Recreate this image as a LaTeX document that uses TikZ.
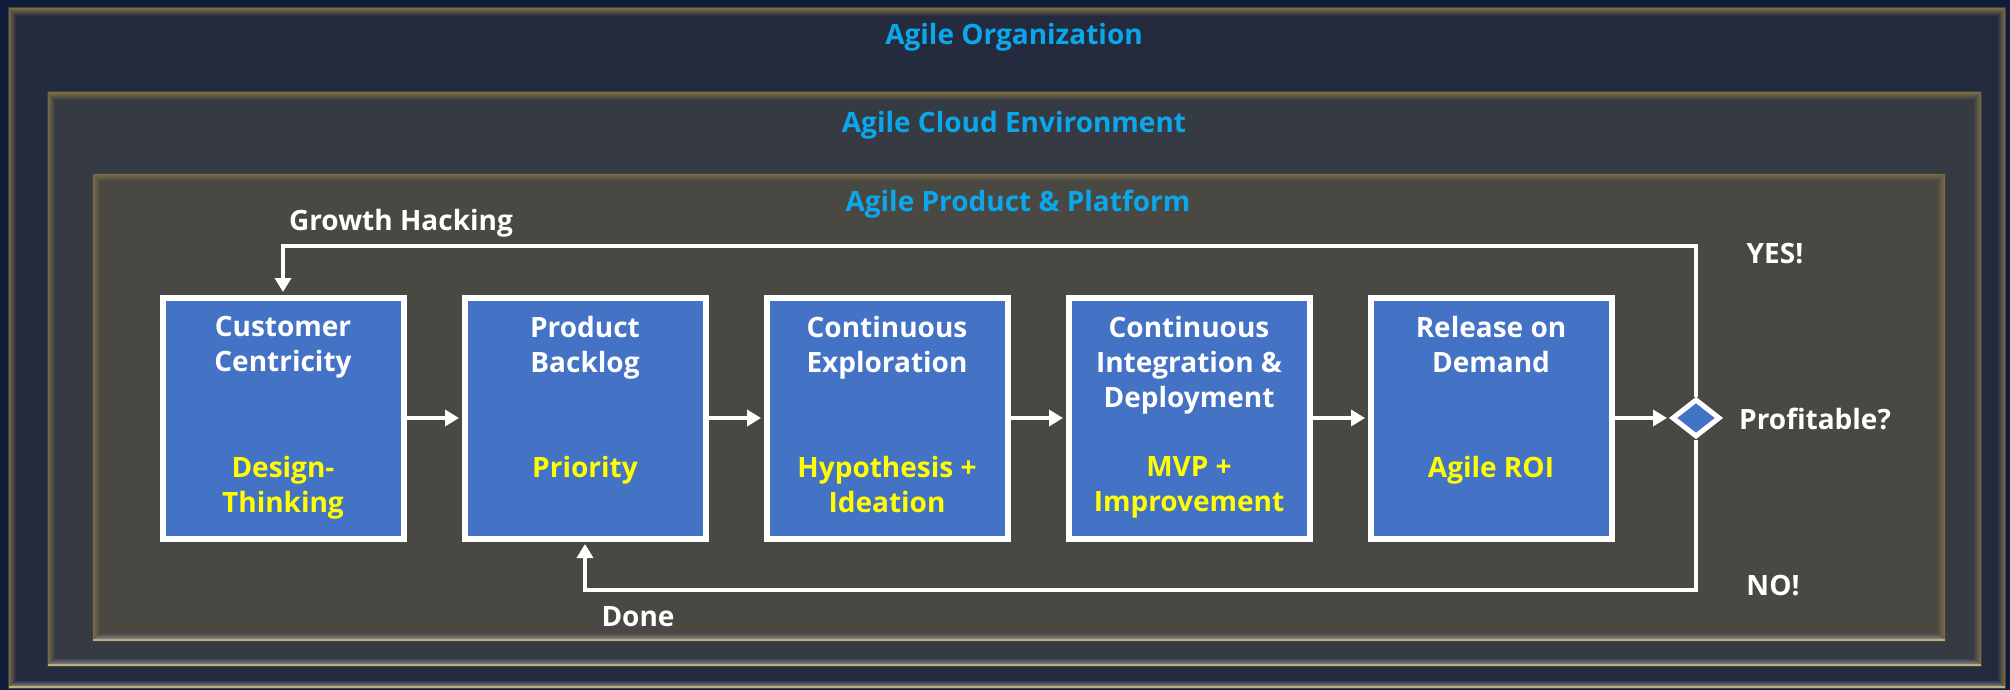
\documentclass[tikz,border=0pt]{standalone}
\usepackage{fontspec}
\setmainfont{Open Sans}
\usetikzlibrary{arrows.meta,shapes.geometric}
\definecolor{bgnavy}{RGB}{15,28,58}
\definecolor{outerfill}{RGB}{37,43,62}
\definecolor{midfill}{RGB}{54,58,67}
\definecolor{innerfill}{RGB}{74,72,67}
\definecolor{bevgold}{RGB}{125,112,72}
\definecolor{bevlight}{RGB}{150,152,165}
\definecolor{bevline}{RGB}{190,175,115}
\definecolor{boxblue}{RGB}{68,114,196}
\definecolor{ytext}{RGB}{255,255,0}
\definecolor{titleblue}{RGB}{10,168,234}
\newcommand\bevpanel[5]{%
  \fill[#5] (#1,#2) rectangle (#3,#4);
  \shade[top color=bevgold, bottom color=#5] (#1,#2) -- (#3,#2) -- (#3-8,#2+8) -- (#1+8,#2+8) -- cycle;
  \shade[left color=bevgold, right color=#5] (#1,#2) -- (#1+8,#2+8) -- (#1+8,#4-8) -- (#1,#4) -- cycle;
  \shade[left color=#5, right color=bevgold] (#3,#2) -- (#3,#4) -- (#3-8,#4-8) -- (#3-8,#2+8) -- cycle;
  \shade[top color=#5, bottom color=bevlight] (#1,#4) -- (#3,#4) -- (#3-8,#4-8) -- (#1+8,#4-8) -- cycle;
  \draw[bevline, line width=2pt] (#1,#4-1) -- (#3,#4-1);
  \draw[black!75, line width=1pt] (#1,#2) rectangle (#3,#4);
}
\tikzset{
  basefont/.style={font=\fontsize{28}{35}\selectfont\bfseries, inner sep=0pt},
  ttl/.style={basefont, text=titleblue, anchor=base},
  wtxt/.style={basefont, text=white, align=center},
  ytxt/.style={basefont, text=ytext, align=center},
  pbox/.style={draw=white, line width=6pt, fill=boxblue, minimum size=241pt, inner sep=0pt},
  dia/.style={shape=diamond, draw=white, line width=5pt, fill=boxblue, minimum width=48pt, minimum height=38pt, inner sep=0pt},
  arr/.style={draw=white, line width=4pt, -{Triangle[length=14pt,width=16pt]}, shorten >=2.5pt},
}
\begin{document}
\begin{tikzpicture}[x=1pt,y=-1pt]
\useasboundingbox (0,0) rectangle (2010,690);
\fill[bgnavy] (0,0) rectangle (2010,690);
\bevpanel{8}{8}{2005}{688}{outerfill}
\bevpanel{47}{92}{1981}{666}{midfill}
\bevpanel{92}{173}{1945}{641}{innerfill}

\node[ttl] (t1) at (1014,45) {Agile Organization};
\node[ttl] (t2) at (1014,132) {Agile Cloud Environment};
\node[ttl] (t3) at (1018,211) {Agile Product \& Platform};

\node[pbox] (b1) at (283,418) {};
\node[pbox] (b2) at (585,418) {};
\node[pbox] (b3) at (887,418) {};
\node[pbox] (b4) at (1189,418) {};
\node[pbox] (b5) at (1491,418) {};

\node[wtxt, anchor=north] (b1t) at (283,316) {Customer\\Centricity};
\node[ytxt, anchor=north] (b1y) at (283,456) {Design-\\Thinking};
\node[wtxt, anchor=north] (b2t) at (585,316) {Product\\Backlog};
\node[ytxt, anchor=north] (b2y) at (585,456) {Priority};
\node[wtxt, anchor=north] (b3t) at (887,316) {Continuous\\Exploration};
\node[ytxt, anchor=north] (b3y) at (887,456) {Hypothesis +\\Ideation};
\node[wtxt, anchor=north] (b4t) at (1189,316) {Continuous\\Integration \&\\Deployment};
\node[ytxt, anchor=north] (b4y) at (1189,456) {MVP +\\Improvement};
\node[wtxt, anchor=north] (b5t) at (1491,316) {Release on\\Demand};
\node[ytxt, anchor=north] (b5y) at (1491,456) {Agile ROI};

\node[dia] (d) at (1696,418) {};

\draw[arr] (b1.east) -- (b2.west);
\draw[arr] (b2.east) -- (b3.west);
\draw[arr] (b3.east) -- (b4.west);
\draw[arr] (b4.east) -- (b5.west);
\draw[arr] (b5.east) -- (d.west);
\draw[arr] (d.north) |- ([yshift=48.5pt]b1.north) -- (b1.north);
\draw[arr] (d.south) |- ([yshift=-48.5pt]b2.south) -- (b2.south);

\node[wtxt, anchor=base] (gh) at (401,230) {Growth Hacking};
\node[wtxt, anchor=base] (yes) at (1775,263) {YES!};
\node[wtxt, anchor=base] (no) at (1773,595) {NO!};
\node[wtxt, anchor=base west] (pf) at (1739,429) {Profitable?};
\node[wtxt, anchor=base] (done) at (638,626) {Done};
\end{tikzpicture}
\end{document}
